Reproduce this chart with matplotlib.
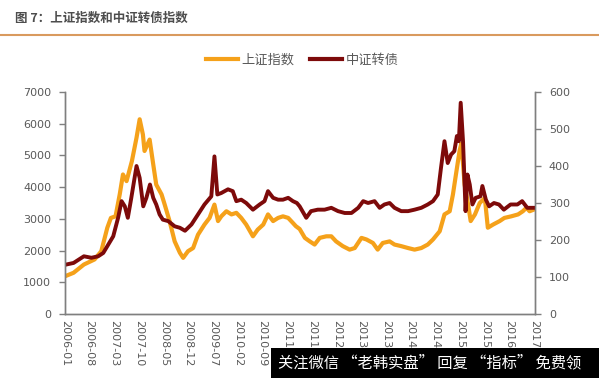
import pandas as pd
import matplotlib
matplotlib.use("Agg")
import matplotlib.pyplot as plt
from matplotlib.patches import Rectangle
from matplotlib.lines import Line2D

plt.rcParams['font.family'] = ['Noto Sans CJK SC', 'DejaVu Sans']

# 上证指数 (left axis)
sh_dates = ['2006-01-01', '2006-03-16', '2006-06-13', '2006-09-13', '2006-11-10',
            '2007-01-01', '2007-02-01', '2007-03-13', '2007-04-18', '2007-05-16',
            '2007-06-16', '2007-08-01', '2007-09-10', '2007-10-07', '2007-11-04',
            '2007-11-18', '2008-01-01', '2008-02-01', '2008-02-27', '2008-04-13',
            '2008-05-10', '2008-06-21', '2008-08-04', '2008-09-18', '2008-10-16',
            '2008-11-27', '2009-01-10', '2009-02-21', '2009-04-18', '2009-06-01',
            '2009-07-13', '2009-08-13', '2009-09-10', '2009-10-24', '2009-12-07',
            '2010-01-18', '2010-03-01', '2010-04-13', '2010-06-10', '2010-07-21',
            '2010-09-07', '2010-10-18', '2010-12-01', '2011-01-13', '2011-02-24',
            '2011-04-10', '2011-05-21', '2011-06-15', '2011-07-18', '2011-09-01',
            '2011-10-13', '2011-11-24', '2012-01-07', '2012-03-04', '2012-04-16',
            '2012-05-27', '2012-07-24', '2012-09-21', '2012-11-04', '2013-01-01',
            '2013-02-13', '2013-04-10', '2013-05-21', '2013-07-04', '2013-09-01',
            '2013-10-13', '2013-12-10', '2014-02-07', '2014-04-04', '2014-06-01',
            '2014-07-27', '2014-09-10', '2014-11-07', '2014-12-18', '2015-02-01',
            '2015-03-01', '2015-03-27', '2015-04-27', '2015-05-13', '2015-06-10',
            '2015-07-10', '2015-08-01', '2015-09-07', '2015-10-18', '2015-12-01',
            '2015-12-27', '2016-02-10', '2016-04-07', '2016-05-18', '2016-07-16',
            '2016-09-13', '2016-10-24', '2016-11-24', '2016-12-21', '2017-02-01']
sh_values = [1190, 1300, 1560, 1720, 1980,
             2720, 3030, 3080, 3770, 4400,
             4190, 4820, 5560, 6140, 5660,
             5140, 5500, 4720, 4080, 3770,
             3450, 2930, 2290, 1930, 1770,
             1980, 2080, 2500, 2820, 3030,
             3450, 2930, 3080, 3240, 3140,
             3190, 3030, 2820, 2450, 2660,
             2820, 3140, 2930, 3030, 3080,
             3030, 2870, 2770, 2680, 2400,
             2290, 2190, 2400, 2450, 2450,
             2290, 2140, 2030, 2080, 2400,
             2350, 2240, 2030, 2240, 2290,
             2190, 2140, 2080, 2030, 2080,
             2190, 2350, 2610, 3140, 3240,
             3770, 4400, 5140, 5380, 4080,
             3450, 2930, 3140, 3500, 3660,
             2720, 2820, 2930, 3030, 3080,
             3140, 3240, 3350, 3240, 3300]

# 中证转债 (right axis)
cb_dates = ['2006-01-01', '2006-03-16', '2006-06-13', '2006-08-17', '2006-10-14',
            '2006-11-27', '2007-01-10', '2007-02-21', '2007-04-04', '2007-05-04',
            '2007-06-01', '2007-06-27', '2007-07-27', '2007-09-10', '2007-10-07',
            '2007-11-07', '2007-12-04', '2008-01-04', '2008-02-01', '2008-02-27',
            '2008-03-27', '2008-04-24', '2008-06-10', '2008-08-04', '2008-09-18',
            '2008-11-01', '2008-12-27', '2009-02-21', '2009-04-18', '2009-06-16',
            '2009-07-13', '2009-08-07', '2009-09-10', '2009-11-07', '2009-12-18',
            '2010-01-18', '2010-03-01', '2010-04-13', '2010-06-10', '2010-08-07',
            '2010-09-18', '2010-10-18', '2010-12-01', '2011-01-13', '2011-02-24',
            '2011-04-10', '2011-05-21', '2011-06-24', '2011-07-18', '2011-09-13',
            '2011-10-24', '2011-12-21', '2012-02-18', '2012-04-16', '2012-06-13',
            '2012-08-10', '2012-10-07', '2012-12-04', '2013-01-16', '2013-02-27',
            '2013-04-24', '2013-06-07', '2013-07-18', '2013-09-01', '2013-10-13',
            '2013-12-10', '2014-02-07', '2014-04-04', '2014-06-01', '2014-07-27',
            '2014-09-10', '2014-10-21', '2014-11-18', '2014-12-18', '2015-01-15',
            '2015-02-13', '2015-03-13', '2015-04-04', '2015-04-21', '2015-05-07',
            '2015-05-27', '2015-06-18', '2015-07-04', '2015-07-24', '2015-08-16',
            '2015-09-13', '2015-10-24', '2015-11-10', '2015-12-10', '2016-01-07',
            '2016-02-18', '2016-04-01', '2016-05-13', '2016-07-10', '2016-09-07',
            '2016-10-18', '2016-12-01', '2017-02-01']
cb_values = [133, 138, 156, 152, 156,
             165, 188, 210, 260, 305,
             291, 260, 314, 400, 368,
             291, 314, 350, 314, 296,
             269, 255, 251, 237, 233,
             225, 242, 269, 296, 318,
             426, 323, 327, 337, 332,
             305, 309, 300, 282, 296,
             305, 332, 314, 309, 309,
             314, 305, 300, 291, 260,
             278, 282, 282, 287, 278,
             273, 273, 287, 305, 300,
             305, 287, 296, 300, 287,
             278, 278, 282, 287, 296,
             305, 323, 395, 467, 408,
             431, 440, 481, 467, 571,
             467, 278, 377, 350, 296,
             314, 318, 346, 309, 291,
             300, 296, 282, 296, 296,
             305, 287, 287]

tick_labels = ['2006-01', '2006-08', '2007-03', '2007-10', '2008-05', '2008-12',
               '2009-07', '2010-02', '2010-09', '2011-04', '2011-11', '2012-06',
               '2013-01', '2013-08', '2014-03', '2014-10', '2015-05', '2015-12',
               '2016-07', '2017-02']

orange = '#F5A11A'
darkred = '#7D0A0A'
gray = '#595959'
axis_gray = '#7f7f7f'

fig = plt.figure(figsize=(5.99, 3.78), dpi=100)
ax = fig.add_axes([0.1085, 0.1693, 0.7845, 0.5873])
ax2 = ax.twinx()

ax.plot(pd.to_datetime(sh_dates), sh_values, color=orange, lw=3, solid_joinstyle='round')
ax2.plot(pd.to_datetime(cb_dates), cb_values, color=darkred, lw=2.8, solid_joinstyle='round')

ax.set_ylim(0, 7000)
ax.set_yticks(range(0, 7001, 1000))
ax2.set_ylim(0, 600)
ax2.set_yticks(range(0, 601, 100))
ax.set_xlim(pd.Timestamp('2006-01-01'), pd.Timestamp('2017-02-05'))
ax.set_xticks(pd.to_datetime(tick_labels))
ax.set_xticklabels(tick_labels, rotation=-90, fontsize=8, color=gray, family='DejaVu Sans')

for a in (ax, ax2):
    a.spines['top'].set_visible(False)
    for s in ('left', 'right', 'bottom'):
        a.spines[s].set_color(axis_gray)
        a.spines[s].set_linewidth(1)
    a.tick_params(axis='y', colors=axis_gray, labelcolor=gray, labelsize=8, length=4, width=1)
    for lab in a.get_yticklabels():
        lab.set_family('DejaVu Sans')
ax.tick_params(axis='x', length=0, pad=4)
ax.tick_params(axis='y', pad=6)
ax2.tick_params(axis='y', pad=6)

# legend
handles = [Line2D([], [], color=orange, lw=3), Line2D([], [], color=darkred, lw=3)]
fig.legend(handles, ['上证指数', '中证转债'], loc='center', bbox_to_anchor=(0.505, 0.84),
           ncol=2, frameon=False, fontsize=9.5, labelcolor=gray, handlelength=2.4,
           handletextpad=0.3, columnspacing=1.2)

# title and rule
fig.text(0.025, 0.952, '图 7：上证指数和中证转债指数', fontsize=9, fontweight='bold', color='#4d4d4d',
         va='center', ha='left')
fig.add_artist(Line2D([0, 1], [0.907, 0.907], color='#D99A5E', lw=1.5, transform=fig.transFigure))

# watermark box
fig.patches.append(Rectangle((271 / 599, 0), 1 - 271 / 599, 30 / 378, transform=fig.transFigure,
                             facecolor='black', edgecolor='none', zorder=10))
fig.text(278 / 599, 15 / 378, '关注微信 “老韩实盘” 回复 “指标” 免费领', fontsize=11, color='white',
         va='center', ha='left', zorder=11)

fig.savefig('out.png', dpi=100)
